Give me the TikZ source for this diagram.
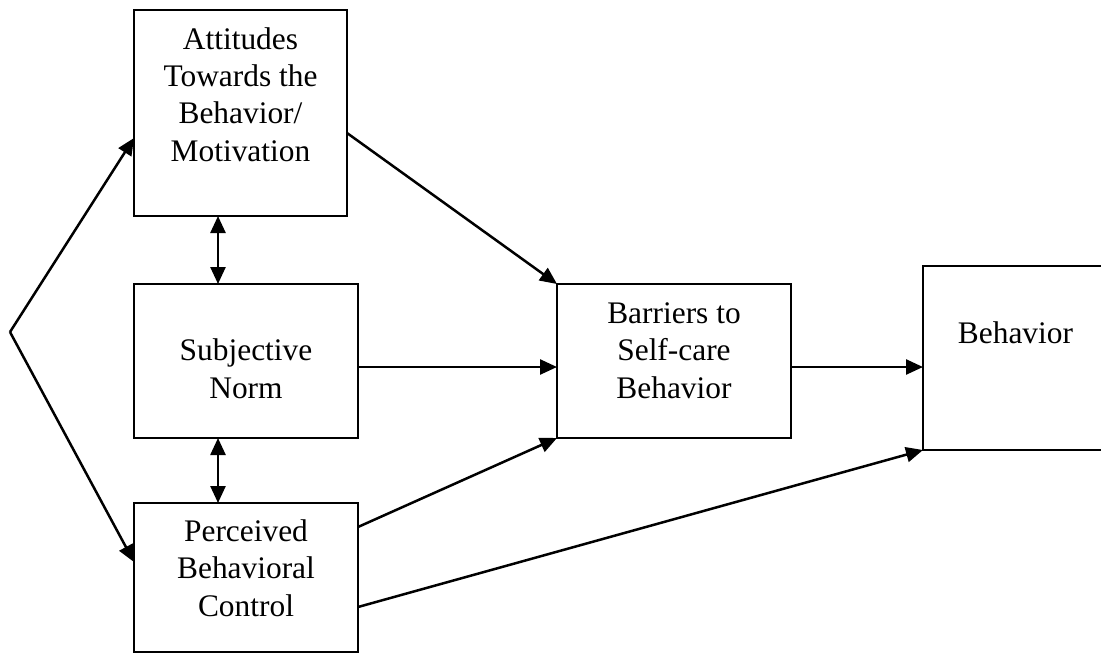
\documentclass[tikz,border=0pt]{standalone}
\usepackage{fontspec}
\setmainfont{Liberation Serif}
\usetikzlibrary{arrows.meta,calc}
\tikzset{
  box/.style={draw=black, line width=2pt, inner sep=0pt, outer sep=0pt, fill=none},
  lbl/.style={align=center, inner sep=0pt, anchor=base, font=\fontsize{31.4}{37.3}\selectfont},
  arr/.style={line width=2.5pt, -{Triangle[length=17pt,width=15pt]}},
  darr/.style={line width=2.5pt, {Triangle[length=17pt,width=15pt]}-{Triangle[length=17pt,width=15pt]}}
}
\begin{document}
\begin{tikzpicture}[x=1pt,y=-1pt]
\clip (0,0) rectangle (1101,654);
\fill[white] (0,0) rectangle (1101,654);
% boxes
\node[box, minimum width=213pt, minimum height=206pt] (att) at (240.5,113) {};
\node[box, minimum width=224pt, minimum height=154pt] (sub) at (246,361) {};
\node[box, minimum width=224pt, minimum height=149pt] (per) at (246,577.5) {};
\node[box, minimum width=234pt, minimum height=154pt] (bar) at (674,361) {};
\node[box, minimum width=188pt, minimum height=184pt] (beh) at (1017,358) {};
% texts (anchored at the baseline of their last line)
\node[lbl] (attT) at (240.5,161) {Attitudes\\Towards the\\Behavior/\\Motivation};
\node[lbl] (subT) at (246,398) {Subjective\\Norm};
\node[lbl] (perT) at (246,616) {Perceived\\Behavioral\\Control};
\node[lbl] (barT) at (674,398) {Barriers to\\Self-care\\Behavior};
\node[lbl] (behT) at (1015.5,343) {Behavior};
% connectors
\coordinate (apex) at (10,332);
\draw[arr] (apex) -- ([yshift=-25pt]att.west);
\draw[arr] (apex) -- ([yshift=15.5pt]per.west);
\draw[darr] ([xshift=-22.5pt]att.south) -- ([xshift=-22.5pt]att.south |- sub.north);
\draw[darr] ([xshift=-28pt]sub.south) -- ([xshift=-28pt]sub.south |- per.north);
\draw[arr] ([yshift=-20pt]att.east) -- (bar.north west);
\draw[arr] ([yshift=-6pt]sub.east) -- ([yshift=-6pt]bar.west);
\draw[arr] ([yshift=50.5pt]per.east) -- (bar.south west);
\draw[arr] ([yshift=-6pt]bar.east) -- ([yshift=-6pt]bar.east -| beh.west);
\draw[arr] ([yshift=-29.5pt]per.east) -- (beh.south west);
\end{tikzpicture}
\end{document}
